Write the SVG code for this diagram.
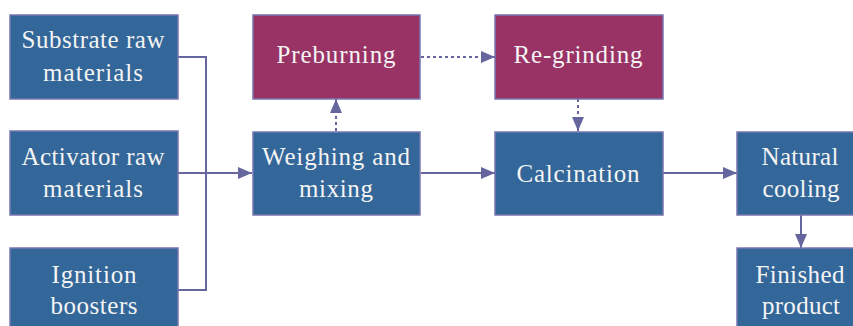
<svg xmlns="http://www.w3.org/2000/svg" width="853" height="326" viewBox="0 0 853 326">
<style>
.b{fill:#336699;stroke:#7777B0;stroke-width:1.5}
.m{fill:#993366;stroke:#7777B0;stroke-width:1.5}
.t{font-family:"Liberation Serif","Times New Roman",serif;font-size:25px;fill:#F4F4F4;text-anchor:middle}
.c{fill:none;stroke:#66669E;stroke-width:2}
.d{stroke-dasharray:3,3}
</style>
<defs>
<marker id="ah" markerWidth="14" markerHeight="12" refX="14" refY="6" orient="auto" markerUnits="userSpaceOnUse">
<path d="M0,0 L14,6 L0,12 Z" fill="#66669E"/>
</marker>
</defs>
<g id="connectors">
<polyline class="c" points="178,57 206,57 206,290 178,290"/>
<line class="c" x1="178" y1="173" x2="252" y2="173" marker-end="url(#ah)"/>
<line class="c" x1="421" y1="173" x2="495" y2="173" marker-end="url(#ah)"/>
<line class="c" x1="663" y1="173" x2="737" y2="173" marker-end="url(#ah)"/>
<line class="c d" x1="336" y1="131" x2="336" y2="99" marker-end="url(#ah)"/>
<line class="c d" x1="421" y1="57" x2="495" y2="57" marker-end="url(#ah)"/>
<line class="c d" x1="578" y1="99" x2="578" y2="131" marker-end="url(#ah)"/>
<line class="c" x1="801" y1="215" x2="801" y2="248" marker-end="url(#ah)"/>
</g>
<g id="substrate">
<rect class="b" x="10" y="15" width="168" height="84"/>
<text class="t" x="93" y="48" textLength="143">Substrate raw</text>
<text class="t" x="93" y="81" textLength="100">materials</text>
</g>
<g id="activator">
<rect class="b" x="10" y="131" width="168" height="84"/>
<text class="t" x="93" y="165" textLength="143">Activator raw</text>
<text class="t" x="93" y="197" textLength="100">materials</text>
</g>
<g id="ignition">
<rect class="b" x="10" y="248" width="168" height="84"/>
<text class="t" x="94" y="283" textLength="85">Ignition</text>
<text class="t" x="94" y="314" textLength="87">boosters</text>
</g>
<g id="weighing">
<rect class="b" x="253" y="132" width="167" height="83"/>
<text class="t" x="336" y="165" textLength="148">Weighing and</text>
<text class="t" x="336" y="197" textLength="74">mixing</text>
</g>
<g id="preburning">
<rect class="m" x="253" y="15" width="167" height="84"/>
<text class="t" x="336" y="63" textLength="119">Preburning</text>
</g>
<g id="regrinding">
<rect class="m" x="495" y="15" width="168" height="84"/>
<text class="t" x="578" y="63" textLength="129">Re-grinding</text>
</g>
<g id="calcination">
<rect class="b" x="495" y="132" width="168" height="83"/>
<text class="t" x="578" y="182" textLength="123">Calcination</text>
</g>
<g id="cooling">
<rect class="b" x="737" y="132" width="128" height="83"/>
<text class="t" x="800" y="165" textLength="77">Natural</text>
<text class="t" x="801" y="197" textLength="77">cooling</text>
</g>
<g id="finished">
<rect class="b" x="737" y="248" width="128" height="84"/>
<text class="t" x="800" y="283" textLength="89">Finished</text>
<text class="t" x="801" y="314" textLength="78">product</text>
</g>
</svg>
